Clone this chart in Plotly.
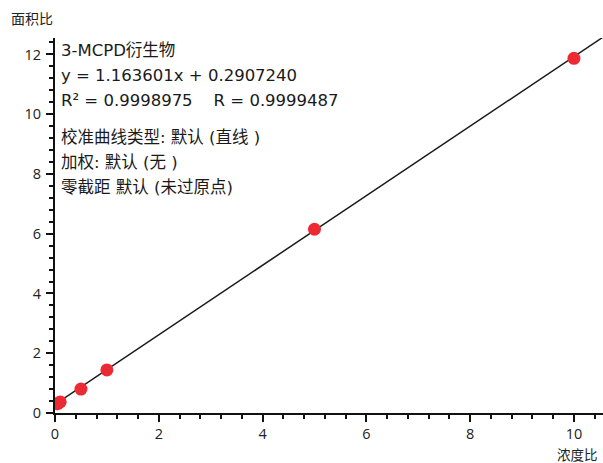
import numpy as np
import plotly.graph_objects as go

# Calibration standards: concentration ratio vs. peak area ratio
conc_ratio = [0.05, 0.1, 0.5, 1.0, 5.0, 10.0]
area_ratio = [0.31, 0.37, 0.80, 1.44, 6.15, 11.87]

# Fitted calibration line and statistics
slope = 1.163601
intercept = 0.2907240
r_squared = 0.9998975
r_value = 0.9999487

compound = "3-MCPD衍生物"
info_lines = ["校准曲线类型: 默认 (直线 )", "加权: 默认 (无 )", "零截距 默认 (未过原点)"]

x_range = [0, 10.56]
y_range = [0, 12.55]

line_x = np.array(x_range)
line_y = slope * line_x + intercept

fig = go.Figure()
fig.add_trace(go.Scatter(
    x=line_x, y=line_y, mode="lines",
    line=dict(color="#1a1a1a", width=1.5),
    hoverinfo="skip", showlegend=False,
))
fig.add_trace(go.Scatter(
    x=conc_ratio, y=area_ratio, mode="markers",
    marker=dict(color="#ec2a33", size=13, line=dict(width=0)),
    showlegend=False,
))

tick_font = dict(family="Open Sans, Noto Sans CJK SC", size=14.5, color="#222")
axis_common = dict(
    showline=True, linecolor="#111", linewidth=2,
    showgrid=False, zeroline=False,
    ticks="outside", tickcolor="#111", tickwidth=2,
    tickfont=tick_font, dtick=2,
    minor=dict(ticks="outside", dtick=0.4, ticklen=4, tickwidth=2, tickcolor="#111"),
)
fig.update_xaxes(range=x_range, ticklen=7, ticklabelstandoff=0, **axis_common)
fig.update_yaxes(range=y_range, ticklen=7, ticklabelstandoff=2, **axis_common)

text_font = dict(family="DejaVu Sans, Noto Sans CJK SC", size=16.5, color="#1a1a1a")
lines = [
    (compound, 50),
    (f"y = {slope:.6f}x + {intercept:.7f}", 75),
    (f"R² = {r_squared:.7f}    R = {r_value:.7f}", 100),
    (info_lines[0], 138),
    (info_lines[1], 162),
    (info_lines[2], 187),
]
annotations = []
for txt, ypix in lines:
    annotations.append(dict(
        text=txt.replace("    ", "&nbsp;&nbsp;&nbsp;&nbsp;"),
        xref="paper", yref="paper",
        x=(59 - 55) / 548, y=1 - (ypix - 38) / 375,
        xanchor="left", yanchor="middle", showarrow=False, font=text_font,
    ))

label_font = dict(family="Noto Sans CJK SC", size=14, color="#222")
annotations.append(dict(
    text="面积比", xref="paper", yref="paper",
    x=(9 - 55) / 548, y=1 - (18 - 38) / 375,
    xanchor="left", yanchor="middle", showarrow=False, font=label_font,
))
annotations.append(dict(
    text="浓度比", xref="paper", yref="paper",
    x=(599 - 55) / 548, y=1 - (454 - 38) / 375,
    xanchor="right", yanchor="middle", showarrow=False,
    font=dict(label_font, size=13.5), borderpad=0,
))

fig.update_layout(
    width=603, height=463,
    margin=dict(l=55, r=0, t=38, b=50),
    paper_bgcolor="white", plot_bgcolor="white",
    annotations=annotations,
)

fig.write_html("out.html")
